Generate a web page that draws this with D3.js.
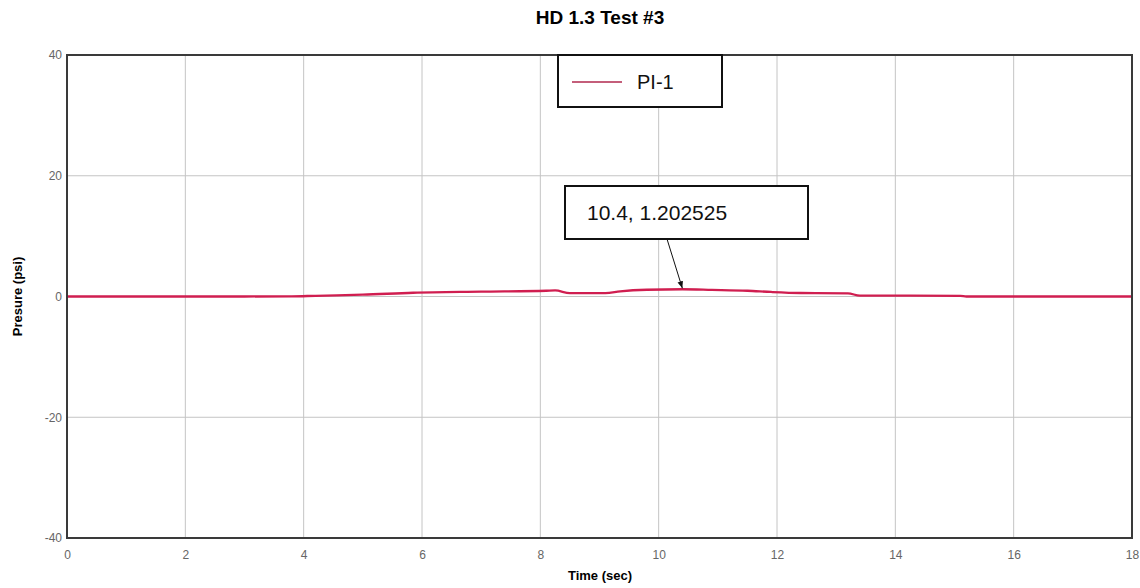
<!DOCTYPE html>
<html>
<head>
<meta charset="utf-8">
<script src="https://cdn.jsdelivr.net/npm/d3@7"></script>
<style>
  body { margin: 0; background: #fff; }
  svg { font-family: "Liberation Sans", Arial, sans-serif; }
</style>
</head>
<body>
<div id="chart"></div>
<script>
// ============
// Data
// ============
var timeSec = [0, 1, 2, 3, 3.8, 4.2, 5, 5.85, 7, 8.1, 8.25, 8.5, 9.1, 9.35, 9.8, 10.4, 10.9, 11.5, 11.9, 12.4, 13.2, 13.4, 15.1, 15.2, 18];
var pressure = [0, 0, 0, 0, 0.02, 0.12, 0.3, 0.62, 0.8, 0.95, 1.0, 0.55, 0.55, 0.85, 1.12, 1.2025, 1.1, 0.95, 0.75, 0.58, 0.52, 0.14, 0.12, 0.0, 0.0];
var xTicks = [0, 2, 4, 6, 8, 10, 12, 14, 16, 18];
var yTicks = [-40, -20, 0, 20, 40];
var seriesName = "PI-1";
var callout = { t: 10.4, p: 1.202525, label: "10.4, 1.202525" };

// ============
// Set up of the chart and svg
// ============
var svgWidth = 1140;
var svgHeight = 588;
var margin = { top: 55, right: 8, bottom: 50, left: 67 };
var width = 1132 - margin.left;
var height = 538 - margin.top;

var svg = d3.select("#chart")
  .append("svg")
  .attr("width", svgWidth)
  .attr("height", svgHeight);

var chartGroup = svg.append("g")
  .attr("transform", `translate(${margin.left}, ${margin.top})`);

var xScale = d3.scaleLinear().domain([0, 18]).range([0, width]);
var yScale = d3.scaleLinear().domain([-40, 40]).range([height, 0]);

// grid lines
chartGroup.selectAll(".vgrid")
  .data(xTicks.slice(1, -1))
  .enter()
  .append("line")
  .attr("x1", d => xScale(d))
  .attr("x2", d => xScale(d))
  .attr("y1", 0)
  .attr("y2", height)
  .attr("stroke", "#c4c4c4")
  .attr("stroke-width", 1);

chartGroup.selectAll(".hgrid")
  .data(yTicks.slice(1, -1))
  .enter()
  .append("line")
  .attr("x1", 0)
  .attr("x2", width)
  .attr("y1", d => yScale(d))
  .attr("y2", d => yScale(d))
  .attr("stroke", "#c4c4c4")
  .attr("stroke-width", 1);

// axes (labels only, the frame is drawn below)
var bottomAxis = d3.axisBottom(xScale).tickValues(xTicks).tickSize(0).tickPadding(12)
  .tickFormat(d => String(d));
var leftAxis = d3.axisLeft(yScale).tickValues(yTicks).tickSize(0).tickPadding(5)
  .tickFormat(d => String(d));

var xAxis = chartGroup.append("g")
  .attr("transform", `translate(0, ${height})`)
  .call(bottomAxis);
var yAxis = chartGroup.append("g").call(leftAxis);

[xAxis, yAxis].forEach(function(ax) {
  ax.select(".domain").remove();
  ax.selectAll("text")
    .attr("fill", "#666")
    .style("font-size", "12px");
});

// the data line
var line = d3.line()
  .x((d, i) => xScale(timeSec[i]))
  .y(d => yScale(d))
  .curve(d3.curveMonotoneX);

chartGroup.append("path")
  .datum(pressure)
  .attr("d", line)
  .attr("fill", "none")
  .attr("stroke", "#d01e50")
  .attr("stroke-width", 2.3);

// plot frame
chartGroup.append("rect")
  .attr("width", width)
  .attr("height", height)
  .attr("fill", "none")
  .attr("stroke", "#3a3a3a")
  .attr("stroke-width", 2);

// legend
var legend = svg.append("g").attr("transform", "translate(558, 55)");
legend.append("rect")
  .attr("width", 164)
  .attr("height", 52)
  .attr("fill", "#fff")
  .attr("stroke", "#111")
  .attr("stroke-width", 2);
legend.append("line")
  .attr("x1", 14).attr("x2", 64)
  .attr("y1", 27).attr("y2", 27)
  .attr("stroke", "#b0284e")
  .attr("stroke-width", 1.5);
legend.append("text")
  .attr("x", 79)
  .attr("y", 34)
  .style("font-size", "20px")
  .attr("fill", "#111")
  .text(seriesName);

// callout box and arrow
var boxX = 565, boxY = 186, boxW = 243, boxH = 53;
svg.append("defs").append("marker")
  .attr("id", "arrowHead")
  .attr("viewBox", "0 0 10 10")
  .attr("refX", 10).attr("refY", 5)
  .attr("markerWidth", 7).attr("markerHeight", 7)
  .attr("orient", "auto")
  .append("path")
  .attr("d", "M0,1 L10,5 L0,9 Z")
  .attr("fill", "#111");

svg.append("line")
  .attr("x1", 667)
  .attr("y1", boxY + boxH)
  .attr("x2", margin.left + xScale(callout.t))
  .attr("y2", margin.top + yScale(callout.p) - 1)
  .attr("stroke", "#111")
  .attr("stroke-width", 1)
  .attr("marker-end", "url(#arrowHead)");

svg.append("rect")
  .attr("x", boxX).attr("y", boxY)
  .attr("width", boxW).attr("height", boxH)
  .attr("fill", "#fff")
  .attr("stroke", "#111")
  .attr("stroke-width", 2);
svg.append("text")
  .attr("x", boxX + 22)
  .attr("y", boxY + 34)
  .style("font-size", "21px")
  .attr("fill", "#111")
  .text(callout.label);

// title and axis titles
svg.append("text")
  .attr("x", 600).attr("y", 24)
  .attr("text-anchor", "middle")
  .style("font-size", "19px")
  .style("font-weight", "bold")
  .text("HD 1.3 Test #3");

svg.append("text")
  .attr("x", 600).attr("y", 580)
  .attr("text-anchor", "middle")
  .style("font-size", "13px")
  .style("font-weight", "bold")
  .text("Time (sec)");

svg.append("text")
  .attr("transform", `translate(22, ${margin.top + height / 2}) rotate(-90)`)
  .attr("text-anchor", "middle")
  .style("font-size", "13px")
  .style("font-weight", "bold")
  .text("Presure (psi)");
</script>
</body>
</html>
